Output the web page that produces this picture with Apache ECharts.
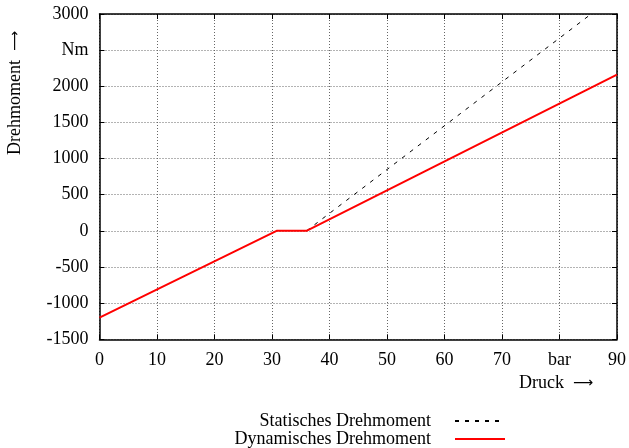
<!DOCTYPE html>
<html>
<head>
<meta charset="utf-8">
<script src="https://cdn.jsdelivr.net/npm/echarts@6/dist/echarts.min.js"></script>
<style>
  html, body { margin: 0; padding: 0; background: #fff; }
  #chart { width: 629px; height: 448px; }
</style>
</head>
<body>
<div id="chart"></div>
<script>
// pressure (bar) vs torque (Nm)
const staticTorque = [[36, 0], [85.5, 3000]];
const dynamicTorque = [[0, -1200], [30.8, 0], [36, 0], [90, 2160]];
const xTickLabels = { 80: 'bar' };
const yTickLabels = { 2500: 'Nm' };

const font = 'Liberation Serif';
const chart = echarts.init(document.getElementById('chart'));

const borderAxis = {
  axisLine: { show: true, onZero: false, lineStyle: { color: '#000', width: 1.5 } },
  axisTick: { show: true, inside: true, length: 5, lineStyle: { color: '#000' } },
  axisLabel: { show: false },
  splitLine: { show: false }
};

const legendBase = {
  right: 118,
  orient: 'vertical',
  align: 'right',
  itemWidth: 50,
  itemHeight: 10,
  itemStyle: { opacity: 0 },
  textStyle: { fontFamily: font, fontSize: 18, color: '#000', padding: [0, 19, 0, 0] }
};

const arrowRich = {
  a: { fontFamily: 'DejaVu Sans', fontSize: 14, color: '#000' }
};

chart.setOption({
  animation: false,
  textStyle: { fontFamily: font },
  grid: { left: 99.5, right: 10.5, top: 14, bottom: 108.7, containLabel: false },
  legend: [
    { ...legendBase, top: 407, data: ['Statisches Drehmoment'] },
    { ...legendBase, top: 425, data: ['Dynamisches Drehmoment'] }
  ],
  xAxis: [
    {
      type: 'value',
      min: 0,
      max: 90,
      interval: 10,
      axisLine: { onZero: false, lineStyle: { color: '#000', width: 1.5 } },
      axisTick: { inside: true, length: 5, lineStyle: { color: '#000' } },
      axisLabel: {
        margin: 12,
        fontFamily: font,
        fontSize: 18,
        color: '#000',
        formatter: v => xTickLabels[v] || String(v)
      },
      splitLine: { show: true, lineStyle: { color: '#666', type: [1, 2] } }
    },
    { type: 'value', position: 'top', min: 0, max: 90, interval: 10, ...borderAxis }
  ],
  yAxis: [
    {
      type: 'value',
      min: -1500,
      max: 3000,
      interval: 500,
      axisLine: { show: true, onZero: false, lineStyle: { color: '#000', width: 1.5 } },
      axisTick: { show: true, inside: true, length: 5, lineStyle: { color: '#000' } },
      axisLabel: {
        margin: 11,
        fontFamily: font,
        fontSize: 18,
        color: '#000',
        formatter: v => yTickLabels[v] || String(v)
      },
      splitLine: { show: true, lineStyle: { color: '#666', type: [1, 2] } }
    },
    { type: 'value', position: 'right', min: -1500, max: 3000, interval: 500, ...borderAxis }
  ],
  graphic: [
    {
      type: 'text',
      left: 519,
      top: 374,
      style: {
        text: 'Druck  {a|⟶}',
        font: '18px "Liberation Serif"',
        fill: '#000',
        rich: arrowRich
      }
    },
    {
      type: 'text',
      x: 15,
      y: 93,
      rotation: Math.PI / 2,
      style: {
        text: 'Drehmoment  {a|⟶}',
        font: '18px "Liberation Serif"',
        fill: '#000',
        align: 'center',
        verticalAlign: 'middle',
        rich: arrowRich
      }
    }
  ],
  series: [
    {
      name: 'Statisches Drehmoment',
      type: 'line',
      data: staticTorque,
      symbol: 'none',
      lineStyle: { color: '#000', width: 1, type: [4, 6] },
      itemStyle: { color: '#000' }
    },
    {
      name: 'Dynamisches Drehmoment',
      type: 'line',
      data: dynamicTorque,
      symbol: 'none',
      lineStyle: { color: '#ff0000', width: 2 },
      itemStyle: { color: '#ff0000' }
    }
  ]
});
</script>
</body>
</html>
